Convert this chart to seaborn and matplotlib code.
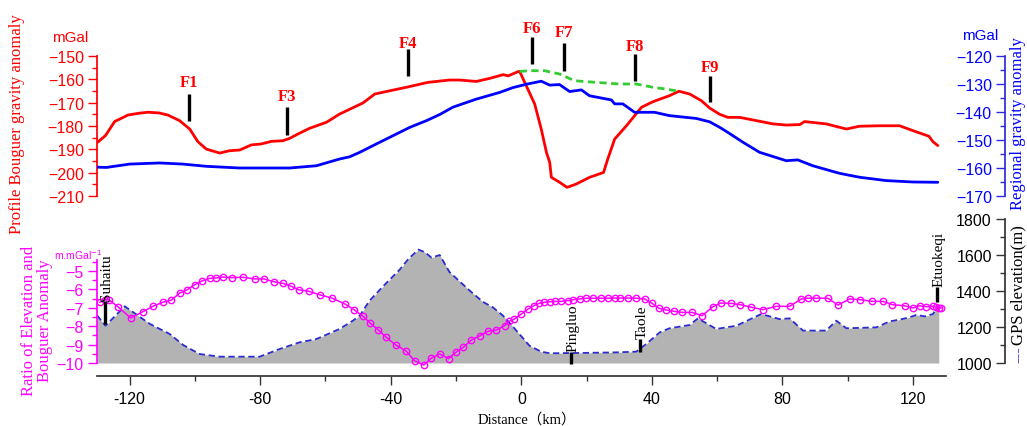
import matplotlib
matplotlib.use("Agg")
import matplotlib.pyplot as plt
import seaborn as sns
import numpy as np

# ---------------- data ----------------
bouguer_x = [-130.1, -127.4, -124.6, -120.5, -117.0, -114.4, -111.0, -108.3, -104.7, -101.6,
             -99.1, -96.5, -92.4, -89.4, -86.3, -82.7, -79.7, -76.6, -73.0, -71.0,
             -68.4, -64.9, -59.7, -55.7, -48.5, -44.9, -40.3, -35.2, -28.6, -22.0,
             -18.9, -13.8, -9.7, -5.6, -4.0, -1.0, -0.5, 1.5, 4.1, 6.1,
             7.7, 8.7, 9.2, 11.7, 14.0, 16.8, 20.9, 25.2, 26.5, 28.6,
             32.2, 36.8, 40.3, 45.4, 48.3, 51.6, 55.1, 57.7, 60.8, 63.3,
             66.9, 72.0, 77.1, 81.2, 85.3, 86.8, 93.4, 99.6, 103.6, 109.8,
             115.9, 120.0, 124.9, 126.1, 127.6]
bouguer_y = [-187.3, -184.1, -178.1, -175.3, -174.5, -174.1, -174.4, -175.3, -177.7, -181.3,
             -186.7, -189.9, -191.6, -190.6, -190.3, -188.1, -187.7, -186.6, -186.3, -185.3,
             -183.4, -181.0, -178.4, -174.9, -170.1, -166.3, -164.9, -163.4, -161.3, -160.3,
             -160.3, -160.9, -159.6, -158.0, -158.5, -156.7, -156.6, -162.7, -170.6, -181.3,
             -191.3, -195.6, -202.0, -204.1, -206.3, -204.9, -202.0, -199.9, -194.1, -185.6,
             -179.9, -172.0, -169.6, -167.0, -165.1, -166.3, -169.1, -172.3, -175.0, -176.3,
             -176.3, -177.7, -179.1, -179.6, -179.4, -178.1, -179.1, -181.3, -180.1, -179.9,
             -179.9, -182.0, -184.4, -186.7, -188.4]

regional_x = [-130.1, -127.1, -120.0, -110.8, -103.7, -96.5, -86.3, -71.0, -62.8, -55.7,
              -52.6, -49.5, -44.4, -34.2, -29.1, -25.0, -21.0, -13.8, -6.6, -2.6,
              1.5, 6.1, 8.7, 11.7, 14.8, 18.4, 20.9, 27.6, 28.6, 31.1,
              34.7, 40.8, 45.4, 53.6, 57.7, 60.8, 63.3, 67.9, 73.0, 81.2,
              84.7, 89.3, 97.5, 103.6, 111.8, 120.0, 127.6]
regional_y = [-159.7, -159.8, -158.6, -158.2, -158.6, -159.4, -160.0, -160.0, -159.2, -156.8,
              -156.0, -154.4, -151.4, -145.5, -143.1, -140.9, -138.3, -135.4, -133.0, -131.3,
              -130.1, -129.0, -130.4, -130.2, -132.7, -132.1, -134.2, -135.7, -137.1, -137.1,
              -140.1, -140.1, -141.3, -142.3, -143.5, -145.5, -147.3, -150.8, -154.4, -157.4,
              -157.1, -159.2, -161.9, -163.3, -164.5, -165.0, -165.1]

corrected_x = [-0.5, 2.5, 7.1, 11.7, 16.3, 22.9, 30.1, 35.2, 40.3, 43.9, 48.3]
corrected_y = [-156.6, -156.3, -156.3, -157.7, -160.6, -161.3, -162.0, -162.0, -163.4, -164.1, -165.1]

elev_x = [-130.0, -127.4, -121.5, -113.8, -107.7, -103.6, -98.6, -92.4, -80.2, -74.0,
          -67.9, -62.8, -55.7, -51.6, -49.5, -46.5, -42.4, -37.3, -34.5, -31.5,
          -29.5, -27.5, -25.0, -22.0, -15.8, -11.8, -8.7, -5.6, -1.5, 2.5,
          6.1, 8.7, 18.9, 29.1, 35.2, 38.3, 42.4, 45.4, 51.6, 54.1,
          59.7, 65.9, 73.5, 79.1, 82.2, 86.3, 93.4, 96.5, 99.6, 108.8,
          112.8, 115.9, 119.0, 121.0, 123.6, 126.1, 127.1, 127.9]
elev_y = [1265, 1207, 1315, 1217, 1161, 1100, 1050, 1035, 1035, 1078,
          1115, 1133, 1189, 1235, 1263, 1346, 1425, 1518, 1580, 1630,
          1615, 1585, 1600, 1505, 1402, 1340, 1309, 1263, 1180, 1096,
          1063, 1054, 1056, 1059, 1063, 1106, 1170, 1193, 1211, 1248,
          1189, 1207, 1272, 1244, 1248, 1180, 1180, 1235, 1193, 1198,
          1231, 1241, 1254, 1267, 1259, 1272, 1300, 1318]

ratio_x = [-129.1, -127.5, -126.2, -123.6, -119.7, -115.9, -112.9, -109.8, -107.2, -104.7,
           -102.4, -100.1, -97.7, -95.5, -93.6, -91.4, -88.6, -85.3, -81.7, -78.9,
           -75.9, -73.0, -70.5, -68.2, -65.1, -61.8, -58.0, -54.1, -51.3, -48.5,
           -46.3, -43.9, -41.4, -38.5, -35.4, -32.7, -29.9, -27.6, -25.0, -22.3,
           -19.9, -17.8, -15.3, -12.7, -10.3, -7.7, -5.1, -3.7, -2.1, 0.0,
           2.0, 3.8, 5.4, 7.1, 8.7, 10.2, 12.3, 14.3, 15.8, 17.9,
           19.9, 21.9, 24.5, 26.5, 28.6, 30.1, 32.7, 35.2, 37.8, 40.1,
           42.2, 44.4, 46.7, 49.3, 52.4, 55.4, 58.7, 61.1, 64.3, 67.1,
           70.5, 74.0, 78.1, 82.2, 85.8, 87.8, 90.4, 93.9, 97.0, 100.6,
           103.9, 107.5, 110.8, 113.7, 117.4, 120.0, 122.0, 124.0, 126.1, 127.1,
           127.9, 128.7]
ratio_y = [-6.70, -6.55, -6.58, -6.94, -7.55, -7.21, -6.92, -6.70, -6.58, -6.20,
           -6.02, -5.75, -5.53, -5.40, -5.38, -5.33, -5.36, -5.34, -5.43, -5.43,
           -5.58, -5.67, -5.83, -6.02, -6.10, -6.29, -6.47, -6.79, -7.10, -7.46,
           -7.83, -8.19, -8.60, -9.02, -9.33, -9.88, -10.11, -9.74, -9.51, -9.76,
           -9.39, -9.15, -8.75, -8.52, -8.28, -8.21, -7.97, -7.73, -7.61, -7.34,
           -7.07, -6.89, -6.76, -6.70, -6.67, -6.65, -6.65, -6.61, -6.56, -6.52,
           -6.48, -6.48, -6.48, -6.48, -6.47, -6.47, -6.47, -6.48, -6.52, -6.76,
           -7.03, -7.12, -7.19, -7.25, -7.25, -7.43, -6.94, -6.74, -6.76, -6.83,
           -6.97, -7.10, -6.92, -6.92, -6.52, -6.48, -6.48, -6.48, -6.85, -6.52,
           -6.56, -6.65, -6.65, -6.83, -6.89, -7.01, -6.89, -6.94, -6.92, -6.97,
           -7.01, -7.01]

fault_names = ["F1", "F3", "F4", "F6", "F7", "F8", "F9"]
fault_x = [-101.9, -71.9, -34.6, 3.2, 13.0, 34.9, 57.9]
fault_bar_top = [-166.3, -171.9, -147.0, -141.9, -144.4, -149.1, -158.6]
fault_bar_bottom = [-177.9, -183.9, -158.6, -153.4, -156.4, -160.7, -169.7]
fault_label_y = [-161.1, -167.1, -144.4, -138.0, -139.7, -145.7, -154.7]

town_names = ["Suhaitu", "Pingluo", "Taole", "Etuokeqi"]
town_x = [-127.6, 15.3, 36.5, 127.3]
town_bar_top = [-6.62, -9.39, -8.70, -5.87]
town_bar_bottom = [-7.88, -10.05, -9.39, -6.70]

x_ticks = [-120, -80, -40, 0, 40, 80, 120]

# ---------------- style ----------------
sns.set_theme(style="ticks")
plt.rcParams["font.family"] = ["Liberation Sans", "DejaVu Sans"]
SERIF = ["Liberation Serif", "Noto Sans CJK SC", "DejaVu Serif"]
TICK_FS = 11.5

W, H = 1027, 427
fig = plt.figure(figsize=(W / 100, H / 100), dpi=100)
fig.patch.set_facecolor("white")


def fx(px):
    return px / W


def fy(py):
    return 1 - py / H


X0, X1 = 97, 1005
XLIM = (-130, -130 + (X1 - X0) / 3.264)
AXW = (X1 - X0) / W

# ---------------- top panel ----------------
ax_top = fig.add_axes([fx(X0), fy(197), AXW, (197 - 20) / H])
ax_top.patch.set_alpha(0)
ax_reg = ax_top.twinx()
ax_reg.patch.set_alpha(0)

sns.lineplot(x=bouguer_x, y=bouguer_y, ax=ax_top, color="#ff0000", lw=2.0,
             estimator=None, sort=False)
sns.lineplot(x=corrected_x, y=corrected_y, ax=ax_top, color="#33cc33", lw=2.0,
             estimator=None, sort=False, dashes=False)
ax_top.lines[-1].set_dashes((2.6, 1.6))
sns.lineplot(x=regional_x, y=regional_y, ax=ax_reg, color="#0000ff", lw=2.0,
             estimator=None, sort=False)

ax_top.set_xlim(*XLIM)
ax_top.set_ylim(-210, -210 + 177 / 2.3333)
ax_reg.set_ylim(-170, -170 + 177 / 2.8)

for s in ["top", "right", "bottom"]:
    ax_top.spines[s].set_visible(False)
ax_top.spines["left"].set_color("red")
ax_top.spines["left"].set_bounds(-210, -150)
ax_top.set_yticks(list(range(-210, -149, 10)))
ax_top.set_yticks(list(range(-205, -150, 10)), minor=True)
ax_top.tick_params(axis="y", which="both", colors="red", labelcolor="red",
                   direction="out", left=True, labelsize=TICK_FS, pad=3)
ax_top.tick_params(axis="y", which="major", length=6.5, width=1)
ax_top.tick_params(axis="y", which="minor", length=3.5, width=1)
ax_top.tick_params(axis="x", which="both", bottom=False, labelbottom=False)
ax_top.set_xlabel("")
ax_top.set_ylabel("")

for s in ["top", "right", "bottom"]:
    ax_reg.spines[s].set_visible(False)
ax_reg.spines["left"].set_visible(True)
ax_reg.spines["left"].set_position(("axes", 1.0))
ax_reg.spines["left"].set_color("#2a2ae0")
ax_reg.spines["left"].set_bounds(-170, -120)
ax_reg.yaxis.tick_left()
ax_reg.set_yticks(list(range(-170, -119, 10)))
ax_reg.set_yticks(list(range(-165, -120, 10)), minor=True)
ax_reg.tick_params(axis="y", which="both", colors="#2a2ae0", labelcolor="#0000ff",
                   direction="out", left=True, right=False, labelsize=TICK_FS, pad=3)
ax_reg.tick_params(axis="y", which="major", length=6.5, width=1)
ax_reg.tick_params(axis="y", which="minor", length=3.5, width=1)
ax_reg.tick_params(axis="x", which="both", bottom=False, labelbottom=False)
ax_reg.set_ylabel("")

for name, x, yt, yb, yl in zip(fault_names, fault_x, fault_bar_top,
                               fault_bar_bottom, fault_label_y):
    ax_top.plot([x, x], [yb, yt], color="black", lw=2.4, solid_capstyle="butt",
                clip_on=False, zorder=5)
    ax_top.text(x, yl, name, ha="center", va="center", color="red",
                fontweight="bold", family=SERIF, fontsize=12, clip_on=False)

# ---------------- bottom panel ----------------
ax_el = fig.add_axes([fx(X0), fy(364), AXW, (364 - 220) / H])
ax_el.patch.set_alpha(0)
ax_rat = ax_el.twinx()
ax_rat.patch.set_alpha(0)

ax_el.fill_between(elev_x, 1000, elev_y, color="#b3b3b3", lw=0, zorder=1)
sns.lineplot(x=elev_x, y=elev_y, ax=ax_el, color="#2b2bd0", lw=1.3,
             estimator=None, sort=False, zorder=2)
ax_el.lines[-1].set_dashes((3.5, 2.0))

sns.lineplot(x=ratio_x, y=ratio_y, ax=ax_rat, color="#ff00ff", lw=1.1,
             estimator=None, sort=False, marker="o", markersize=4.6,
             markerfacecolor="none", markeredgecolor="#ff00ff",
             markeredgewidth=1.0)
ax_rat.lines[-1].set_clip_on(False)

ax_el.set_xlim(*XLIM)
ax_el.set_ylim(1000, 1800)
ax_rat.set_ylim(-10, -10 + 144 / 18.4)

# elevation axis: ticks on a spine at the right edge, labels inside
for s in ["top", "right"]:
    ax_el.spines[s].set_visible(False)
ax_el.spines["left"].set_position(("axes", 1.0))
ax_el.spines["left"].set_color("#333333")
ax_el.spines["left"].set_bounds(1000, 1800)
ax_el.yaxis.tick_left()
ax_el.set_yticks(list(range(1000, 1801, 200)))
ax_el.set_yticks(list(range(1100, 1800, 200)), minor=True)
ax_el.tick_params(axis="y", which="both", colors="#333333", labelcolor="black",
                  direction="out", left=True, labelsize=TICK_FS, pad=3)
ax_el.tick_params(axis="y", which="major", length=6.5, width=1)
ax_el.tick_params(axis="y", which="minor", length=3.5, width=1)

ax_el.spines["bottom"].set_position(("outward", 9.4))
ax_el.spines["bottom"].set_bounds(-130, 130)
ax_el.spines["bottom"].set_color("#333333")
ax_el.set_xticks(x_ticks)
ax_el.set_xticks(list(range(-100, 121, 40)), minor=True)
ax_el.set_xticklabels([str(t) for t in x_ticks])
ax_el.tick_params(axis="x", which="both", colors="#333333", labelcolor="black",
                  direction="out", bottom=True, labelsize=TICK_FS, pad=4)
ax_el.tick_params(axis="x", which="major", length=6.5, width=1)
ax_el.tick_params(axis="x", which="minor", length=3.5, width=1)
ax_el.set_xlabel("")
ax_el.set_ylabel("")

# ratio axis: left spine
for s in ["top", "right", "bottom"]:
    ax_rat.spines[s].set_visible(False)
ax_rat.spines["left"].set_visible(True)
ax_rat.spines["left"].set_color("#ff00ff")
ax_rat.spines["left"].set_bounds(-10, -4.4)
ax_rat.yaxis.tick_left()
ax_rat.set_yticks(list(range(-10, -4, 1)))
ax_rat.set_yticks([-9.5, -8.5, -7.5, -6.5, -5.5, -4.5], minor=True)
ax_rat.tick_params(axis="y", which="both", colors="#ff00ff", labelcolor="#ff00ff",
                   direction="out", left=True, right=False, labelsize=TICK_FS, pad=3)
ax_rat.tick_params(axis="y", which="major", length=6.5, width=1)
ax_rat.tick_params(axis="y", which="minor", length=3.5, width=1)
ax_rat.tick_params(axis="x", which="both", bottom=False, labelbottom=False)
ax_rat.set_ylabel("")

for name, x, yt, yb in zip(town_names, town_x, town_bar_top, town_bar_bottom):
    ax_rat.plot([x, x], [yb, yt], color="black", lw=2.4, solid_capstyle="butt",
                clip_on=False, zorder=5)
    ax_rat.text(x + 0.6, yt + 0.05, name, rotation=90, ha="center", va="bottom",
                color="black", family=SERIF, fontsize=11, clip_on=False)

# ---------------- labels ----------------
fig.text(fx(17), fy(124), "Profile Bouguer gravity anomaly", rotation=90,
         ha="center", va="center", color="red", family=SERIF, fontsize=12)
fig.text(fx(1018), fy(124), "Regional gravity anomaly", rotation=90,
         ha="center", va="center", color="#0000ff", family=SERIF, fontsize=12)
fig.text(fx(70), fy(38), "mGal", ha="center", va="center", color="red", fontsize=11)
fig.text(fx(980), fy(36), "mGal", ha="center", va="center", color="#0000ff", fontsize=11)
fig.text(fx(37), fy(321), "Ratio of Elevation and\nBouguer Anomaly", rotation=90,
         ha="center", va="center", multialignment="center", color="#ff00ff",
         family=SERIF, fontsize=12, linespacing=1.05)
fig.text(fx(78), fy(255), r"m.mGal$^{-1}$", ha="center", va="center",
         color="#ff00ff", fontsize=7.5)
fig.text(fx(1018), fy(345), "GPS elevation(m)", rotation=90, ha="center",
         va="bottom", color="black", family=SERIF, fontsize=12)
fig.text(fx(1018), fy(346), "---", rotation=90, ha="center", va="top",
         color="#2b2bd0", family=SERIF, fontsize=12)
fig.text(fx(527), fy(420), "Distance（km）", ha="center", va="center",
         color="black", family=SERIF, fontsize=10.5)

fig.savefig("out.png", dpi=100, facecolor="white")
